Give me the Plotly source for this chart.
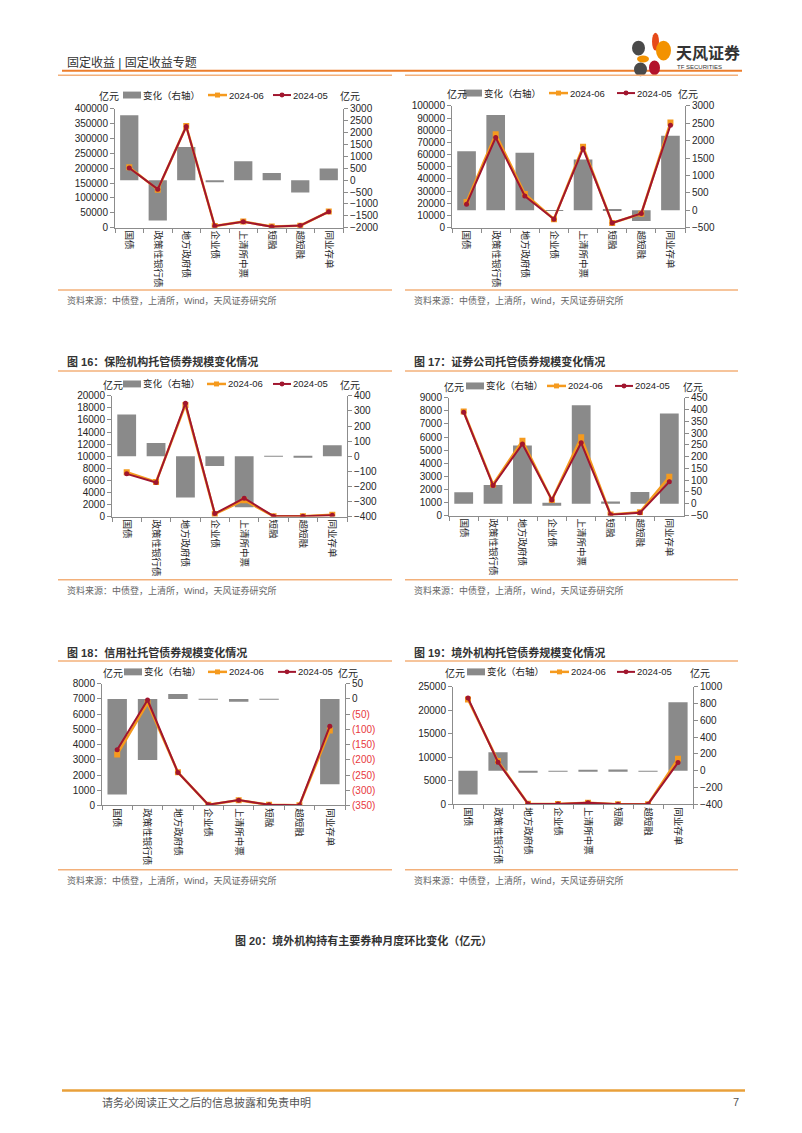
import plotly.graph_objects as go

W, H = 802, 1133

categories = ["国债", "政策性银行债", "地方政府债", "企业债", "上清所中票", "短融", "超短融", "同业存单"]

# top-left chart
chg_a = [2730, -1700, 1400, -90, 800, 300, -520, 490]
jun_a = [203500, 128000, 342000, 5500, 20500, 3500, 6400, 54000]
may_a = [200800, 129700, 340600, 5600, 19700, 3200, 6900, 53500]
# top-right chart
chg_b = [1700, 2740, 1650, -15, 1460, 30, -310, 2140]
jun_b = [21000, 76800, 27600, 6900, 66400, 3850, 11400, 86300]
may_b = [19300, 74060, 25950, 6915, 64940, 3820, 11710, 84160]
# 图16 保险机构
chg_ins = [277, 87, -273, -65, -338, -2, -10, 73]
jun_ins = [7350, 5720, 18500, 420, 2700, 50, 40, 300]
may_ins = [7073, 5633, 18773, 485, 3038, 52, 50, 227]
# 图17 证券公司
chg_sec = [49, 80, 247, -8, 418, 10, 50, 383]
jun_sec = [7950, 2380, 5720, 1190, 5980, 80, 260, 2960]
may_sec = [7901, 2300, 5473, 1198, 5562, 70, 210, 2577]
# 图18 信用社
chg_cc = [-314, -201, 16, -1, -9, -1, 0, -280]
jun_cc = [3350, 6730, 2180, 45, 340, 40, 20, 4930]
may_cc = [3664, 6931, 2164, 46, 349, 41, 20, 5210]
# 图19 境外机构
chg_fx = [-282, 220, -12, -3, 8, 16, -2, 815]
jun_fx = [22300, 9200, 130, 70, 360, 60, 50, 9700]
may_fx = [22582, 8980, 142, 73, 352, 44, 52, 8885]

cc_right_tickvals = [50, 0, -50, -100, -150, -200, -250, -300, -350]
cc_right_ticktext = ["50", "0", "(50)", "(100)", "(150)", "(200)", "(250)", "(300)", "(350)"]

series_names = ["变化（右轴）", "2024-06", "2024-05"]
unit = "亿元"
source_text = "资料来源：中债登，上清所，Wind，天风证券研究所"

GRAY = "#8a8a8a"
ORANGE = "#F59A1E"
RED = "#A1162E"
AXIS = "#8c8c8c"
TXT = "#262626"
FONT = "Liberation Sans, Noto Sans CJK SC, sans-serif"


def fx(x):
    return x / W


def fy(y):
    return 1 - y / H


charts = [
    dict(chg=chg_a, jun=jun_a, may=may_a, box=(115, 343, 104, 224),
         left=(0, 400000, 50000), right=(-2000, 3000, 500),
         leg=(90, 123, 208, 273, 98, 339)),
    dict(chg=chg_b, jun=jun_b, may=may_b, box=(452, 685, 101, 224),
         left=(0, 100000, 10000), right=(-500, 3000, 500),
         leg=(88, 464, 549, 617, 446, 677)),
    dict(chg=chg_ins, jun=jun_ins, may=may_ins, box=(112, 347, 394, 516),
         left=(0, 20000, 2000), right=(-400, 400, 100),
         leg=(382, 123, 207, 273, 102, 339)),
    dict(chg=chg_sec, jun=jun_sec, may=may_sec, box=(449, 684, 396, 515),
         left=(0, 9000, 1000), right=(-50, 450, 50),
         leg=(384, 466, 547, 615, 443, 682)),
    dict(chg=chg_cc, jun=jun_cc, may=may_cc, box=(102, 345, 685, 808),
         left=(0, 8000, 1000), right=(-350, 50, 50),
         leg=(673, 124, 208, 278, 102, 337)),
    dict(chg=chg_fx, jun=jun_fx, may=may_fx, box=(453, 693, 688, 807),
         left=(0, 25000, 5000), right=(-400, 1000, 200),
         leg=(673, 467, 550, 617, 444, 689)),
]

fig = go.Figure()
layout = {}
shapes = []
annotations = []


def ann(text, x, y, size=9.5, color=TXT, xanchor="left", yanchor="middle"):
    annotations.append(dict(text=text, x=fx(x), y=fy(y), xref="paper", yref="paper",
                            xanchor=xanchor, yanchor=yanchor, showarrow=False,
                            font=dict(size=size, color=color, family=FONT), borderpad=0))


for i, c in enumerate(charts, start=1):
    xname = "x" if i == 1 else f"x{i}"
    xkey = "xaxis" if i == 1 else f"xaxis{i}"
    bar_y = 2 * i - 1
    line_y = 2 * i
    byname = "y" if bar_y == 1 else f"y{bar_y}"
    bykey = "yaxis" if bar_y == 1 else f"yaxis{bar_y}"
    lyname = f"y{line_y}"
    lykey = f"yaxis{line_y}"
    x0, x1, y0, y1 = c["box"]

    fig.add_trace(go.Bar(x=categories, y=c["chg"], name=series_names[0],
                         marker=dict(color=GRAY, line=dict(width=0)),
                         xaxis=xname, yaxis=byname))
    fig.add_trace(go.Scatter(x=categories, y=c["jun"], name=series_names[1], mode="lines+markers",
                             line=dict(color=ORANGE, width=2.5),
                             marker=dict(symbol="square", size=6, color=ORANGE),
                             xaxis=xname, yaxis=lyname))
    fig.add_trace(go.Scatter(x=categories, y=c["may"], name=series_names[2], mode="lines+markers",
                             line=dict(color=RED, width=2),
                             marker=dict(symbol="circle", size=5, color=RED),
                             xaxis=xname, yaxis=lyname))

    layout[xkey] = dict(domain=[fx(x0), fx(x1)], anchor=byname, type="category",
                        range=[-0.5, 7.5], showline=True, linecolor=AXIS, linewidth=1,
                        ticks="outside", tickson="boundaries", ticklen=4, tickcolor=AXIS,
                        tickangle=90, tickfont=dict(size=9.5, color=TXT, family=FONT),
                        showgrid=False, zeroline=False, fixedrange=True)
    rmin, rmax, rd = c["right"]
    ry = dict(domain=[fy(y1), fy(y0)], anchor=xname, side="right", range=[rmin, rmax],
              dtick=rd, tick0=0, tickformat="d", showline=True, linecolor=AXIS, linewidth=1,
              ticks="outside", ticklen=4, tickcolor=AXIS, showgrid=False, zeroline=False,
              tickfont=dict(size=10, color=TXT, family=FONT))
    if i == 5:
        ry["tickmode"] = "array"
        ry["tickvals"] = cc_right_tickvals
        ry["ticktext"] = [t if v >= 0 else f"<span style='color:#E8383D'>{t}</span>"
                          for v, t in zip(cc_right_tickvals, cc_right_ticktext)]
    layout[bykey] = ry
    lmin, lmax, ld = c["left"]
    layout[lykey] = dict(overlaying=byname, side="left", anchor=xname, range=[lmin, lmax],
                         dtick=ld, tick0=0, tickformat="d", showline=True, linecolor=AXIS,
                         linewidth=1, ticks="outside", ticklen=4, tickcolor=AXIS,
                         showgrid=False, zeroline=False,
                         tickfont=dict(size=10, color=TXT, family=FONT))

    # manual legend
    ly, bx, ox, rx, ulx, urx = c["leg"]
    shapes.append(dict(type="rect", xref="paper", yref="paper", x0=fx(bx), x1=fx(bx + 18),
                       y0=fy(ly + 3.5), y1=fy(ly - 3.5), fillcolor=GRAY, line=dict(width=0)))
    ann(series_names[0], bx + 19, ly)
    shapes.append(dict(type="line", xref="paper", yref="paper", x0=fx(ox), x1=fx(ox + 19),
                       y0=fy(ly), y1=fy(ly), line=dict(color=ORANGE, width=2.5)))
    shapes.append(dict(type="rect", xref="paper", yref="paper", x0=fx(ox + 7), x1=fx(ox + 12),
                       y0=fy(ly + 2.5), y1=fy(ly - 2.5), fillcolor=ORANGE, line=dict(width=0)))
    ann(series_names[1], ox + 20, ly)
    shapes.append(dict(type="line", xref="paper", yref="paper", x0=fx(rx), x1=fx(rx + 18),
                       y0=fy(ly), y1=fy(ly), line=dict(color=RED, width=2)))
    shapes.append(dict(type="circle", xref="paper", yref="paper", x0=fx(rx + 6.5), x1=fx(rx + 11.5),
                       y0=fy(ly + 2.5), y1=fy(ly - 2.5), fillcolor=RED, line=dict(width=0)))
    ann(series_names[2], rx + 19, ly)
    ann(unit, ulx, ly + 1, size=10)
    ann(unit, urx, ly + 1, size=10)

# page frame: header
ann("固定收益 | 固定收益专题", 66, 57, size=12, color="#333333")
shapes.append(dict(type="line", xref="paper", yref="paper", x0=fx(62), x1=fx(742),
                   y0=fy(65.5), y1=fy(65.5), line=dict(color="#EC7E2D", width=2)))
# logo petals
petals = [
    (632, 645, 35, 50, "#4A4A4A"),
    (652, 659, 27, 45, "#E64A19"),
    (656, 671, 35, 55, "#F39200"),
    (637, 649, 50, 57, "#F39200"),
    (649, 660, 55, 70, "#B3122C"),
    (634, 647, 57, 71, "#4A4A4A"),
]
for a, b, c0, d, col in petals:
    shapes.append(dict(type="circle", xref="paper", yref="paper", x0=fx(a), x1=fx(b),
                       y0=fy(d), y1=fy(c0), fillcolor=col, line=dict(width=0)))
ann("<b>天风证券</b>", 675, 47, size=16, color="#333333")
ann("TF SECURITIES", 676, 62, size=6, color="#333333")

# panel lines
for ya in (70, 287, 369, 580, 662, 873):
    for xa, xb in ((58, 392), (405, 738)):
        shapes.append(dict(type="line", xref="paper", yref="paper", x0=fx(xa), x1=fx(xb),
                           y0=fy(ya), y1=fy(ya), line=dict(color="#F3B07A", width=1.5)))

titles = [("图 16：保险机构托管债券规模变化情况", 66, 359),
          ("图 17：证券公司托管债券规模变化情况", 413, 359),
          ("图 18：信用社托管债券规模变化情况", 66, 653),
          ("图 19：境外机构托管债券规模变化情况", 413, 653)]
for t, x, y in titles:
    ann(f"<b>{t}</b>", x, y, size=11, color="#333333")

for x, y in ((66, 298), (413, 298), (66, 591), (413, 591), (66, 884), (413, 884)):
    ann(source_text, x, y, size=9, color="#666666")

ann("<b>图 20：境外机构持有主要券种月度环比变化（亿元）</b>", 363, 944, size=11,
    color="#333333", xanchor="center")

# footer
shapes.append(dict(type="line", xref="paper", yref="paper", x0=fx(62), x1=fx(745),
                   y0=fy(1096), y1=fy(1096), line=dict(color="#E9A03A", width=2.5)))
ann("请务必阅读正文之后的信息披露和免责申明", 101, 1108, size=11, color="#555555")
ann("7", 740, 1108, size=11, color="#555555", xanchor="right")

fig.update_layout(
    width=W, height=H, autosize=False,
    margin=dict(l=0, r=0, t=0, b=0),
    paper_bgcolor="white", plot_bgcolor="white",
    showlegend=False, bargap=0.36,
    shapes=shapes, annotations=annotations,
    font=dict(family=FONT, color=TXT),
    **layout,
)

fig.write_html("out.html", config={"displayModeBar": False},
               post_script="document.body.style.margin='0';")
